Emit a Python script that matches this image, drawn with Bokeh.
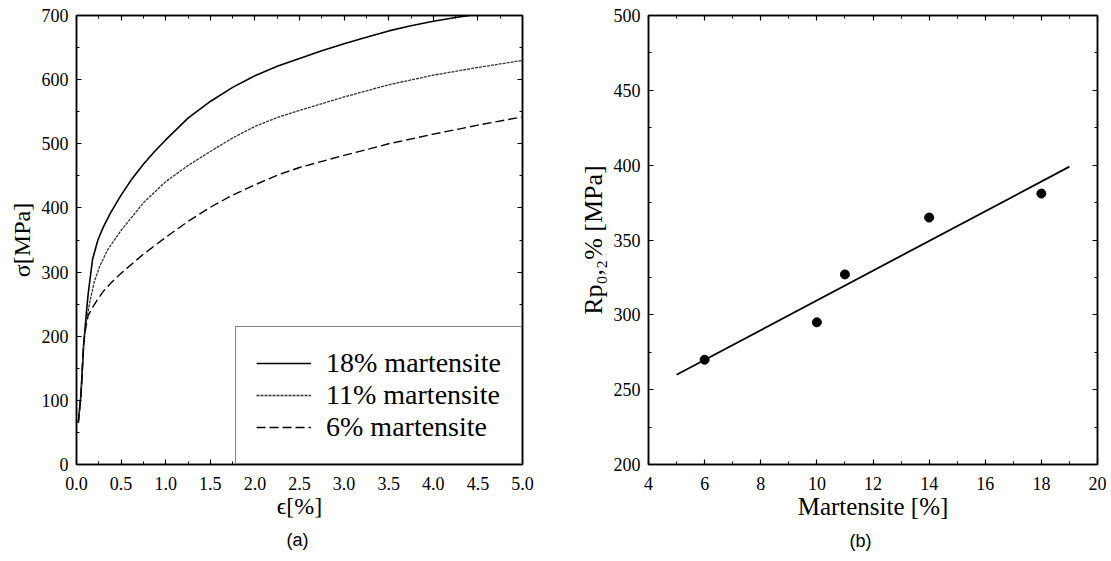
from bokeh.plotting import figure
from bokeh.models import (Range1d, LinearAxis, SingleIntervalTicker, Legend, LegendItem,
                          Title, NumeralTickFormatter, CustomJSTickFormatter)
from bokeh.layouts import row
from bokeh.embed import file_html
from bokeh.resources import INLINE

SERIF = "Liberation Serif"
SANS = "Liberation Sans"

# ---------------- data: (a) stress-strain curves ----------------
strain_18 = [0.02, 0.05, 0.08, 0.11, 0.13, 0.18, 0.24, 0.30, 0.38, 0.50, 0.625, 0.75, 0.875,
             1.00, 1.25, 1.50, 1.75, 2.00, 2.25, 2.50, 2.75, 3.00, 3.25, 3.50, 3.75, 4.00,
             4.25, 4.50]
stress_18 = [65, 109, 187, 235, 265, 320, 350, 370, 392, 420, 446, 468, 488,
             506, 540, 566, 588, 606, 621, 633, 645, 656, 666, 676, 684, 691,
             697, 702]

strain_11 = [0.02, 0.05, 0.08, 0.10, 0.15, 0.20, 0.26, 0.35, 0.50, 0.75, 1.00, 1.25, 1.50,
             1.75, 2.00, 2.25, 2.50, 3.00, 3.50, 4.00, 4.50, 5.00]
stress_11 = [65, 109, 187, 215, 254, 285, 309, 335, 365, 408, 441, 466, 488,
             509, 527, 541, 552, 573, 592, 607, 619, 630]

strain_6 = [0.02, 0.05, 0.08, 0.10, 0.13, 0.18, 0.24, 0.30, 0.40, 0.50, 0.75, 1.00, 1.25,
            1.50, 1.75, 2.00, 2.25, 2.50, 3.00, 3.50, 4.00, 4.50, 5.00]
stress_6 = [65, 109, 187, 210, 232, 245, 258, 270, 285, 298, 328, 354, 379,
            401, 420, 436, 451, 463, 482, 500, 515, 529, 542]

legend_labels = ["18% martensite", "11% martensite", "6% martensite"]

# ---------------- data: (b) yield strength vs martensite ----------------
martensite = [6, 10, 11, 14, 18]
rp02 = [270, 295, 327, 365, 381]
fit_x = [5, 19]
fit_y = [260, 399]


def style_axis(ax, ticker, labels=True, fmt=None, standoff=8):
    ax.ticker = ticker
    ax.axis_line_color = "black"
    ax.axis_line_width = 1.5
    ax.major_tick_in = 5
    ax.major_tick_out = 0
    ax.minor_tick_in = 3
    ax.minor_tick_out = 0
    ax.major_tick_line_color = "black"
    ax.minor_tick_line_color = "black"
    ax.major_tick_line_width = 1.2
    ax.minor_tick_line_width = 1
    if labels:
        ax.major_label_text_font = SERIF
        ax.major_label_text_font_style = "normal"
        ax.major_label_text_font_size = "18px"
        ax.major_label_text_color = "black"
        ax.major_label_standoff = standoff
        ax.axis_label_text_font = SERIF
        ax.axis_label_text_font_style = "normal"
        ax.axis_label_text_color = "black"
        ax.axis_label_standoff = 4
        if fmt:
            ax.formatter = NumeralTickFormatter(format=fmt)
    else:
        ax.formatter = CustomJSTickFormatter(code="return ''")
        ax.major_label_text_font_size = "1px"
        ax.major_label_standoff = 0
        ax.axis_label = None


def base_fig(width, x_range, y_range, ml, mr, mt, mb):
    p = figure(width=width, height=561, x_range=x_range, y_range=y_range,
               output_backend="svg", toolbar_location=None,
               min_border_left=ml, min_border_right=mr,
               min_border_top=mt, min_border_bottom=mb)
    p.grid.visible = False
    p.outline_line_color = "black"
    p.outline_line_width = 1.5
    p.background_fill_color = "white"
    p.border_fill_color = "white"
    return p


# ---------------- figure (a) ----------------
p1 = base_fig(560, Range1d(0, 5), Range1d(0, 700), 76, 38, 13, 97)
style_axis(p1.xaxis[0], SingleIntervalTicker(interval=0.5, num_minor_ticks=2), fmt="0.0",
           standoff=12)
style_axis(p1.yaxis[0], SingleIntervalTicker(interval=100, num_minor_ticks=2))
p1.xaxis[0].axis_label = "\u03f5[%]"
p1.yaxis[0].axis_label = "\u03c3[MPa]"
p1.xaxis[0].axis_label_text_font_size = "24px"
p1.yaxis[0].axis_label_text_font_size = "24px"
p1.xaxis[0].axis_label_standoff = 0
top1 = LinearAxis()
right1 = LinearAxis()
style_axis(top1, SingleIntervalTicker(interval=0.5, num_minor_ticks=2), labels=False)
style_axis(right1, SingleIntervalTicker(interval=100, num_minor_ticks=2), labels=False)
p1.add_layout(top1, "above")
p1.add_layout(right1, "right")

r18 = p1.line(strain_18, stress_18, line_color="black", line_width=1.6)
r11 = p1.line(strain_11, stress_11, line_color="#333333", line_width=1.3, line_dash="3 1")
r6 = p1.line(strain_6, stress_6, line_color="black", line_width=1.4, line_dash="9 4")

legend = Legend(items=[LegendItem(label=legend_labels[0], renderers=[r18]),
                       LegendItem(label=legend_labels[1], renderers=[r11]),
                       LegendItem(label=legend_labels[2], renderers=[r6])],
                location="bottom_right", margin=0, padding=20,
                glyph_width=55, glyph_height=20, label_standoff=15, spacing=0,
                label_text_font=SERIF, label_text_font_style="normal",
                label_text_font_size="28px",
                label_text_color="black",
                border_line_color="black", border_line_width=1.5,
                background_fill_color="white", background_fill_alpha=1)
p1.add_layout(legend)

p1.add_layout(Title(text="(a)", align="left", offset=210, text_font=SANS,
                    text_font_size="18px", text_font_style="normal", text_color="black",
                    standoff=13), "below")

# ---------------- figure (b) ----------------
p2 = base_fig(551, Range1d(4, 20), Range1d(200, 500), 88, 14, 15, 97)
style_axis(p2.xaxis[0], SingleIntervalTicker(interval=2, num_minor_ticks=2), standoff=12)
style_axis(p2.yaxis[0], SingleIntervalTicker(interval=50, num_minor_ticks=2))
p2.xaxis[0].axis_label = "Martensite [%]"
p2.xaxis[0].axis_label_text_font_size = "25px"
p2.xaxis[0].axis_label_standoff = 0
top2 = LinearAxis()
right2 = LinearAxis()
style_axis(top2, SingleIntervalTicker(interval=2, num_minor_ticks=2), labels=False)
style_axis(right2, SingleIntervalTicker(interval=50, num_minor_ticks=2), labels=False)
p2.add_layout(top2, "above")
p2.add_layout(right2, "right")

p2.line(fit_x, fit_y, line_color="black", line_width=1.8)
p2.scatter(martensite, rp02, size=9, fill_color="black", line_color="black")

p2.add_layout(Title(text="Rp\u2080,\u2082% [MPa]", align="center", text_font=SERIF,
                    text_font_size="26px", text_font_style="normal", text_color="black",
                    standoff=6), "left")

p2.add_layout(Title(text="(b)", align="left", offset=201, text_font=SANS,
                    text_font_size="18px", text_font_style="normal", text_color="black",
                    standoff=12), "below")

layout = row(p1, p2)
open("out.html", "w").write(file_html(layout, INLINE))
